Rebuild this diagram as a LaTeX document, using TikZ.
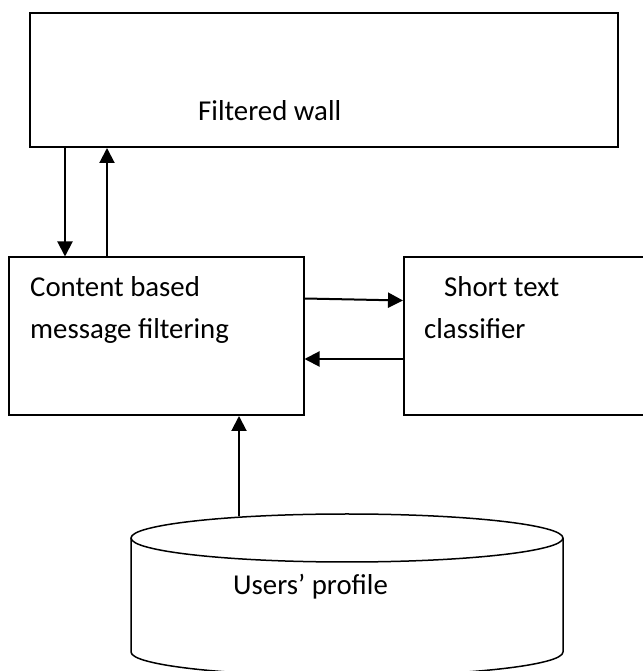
\documentclass[tikz,border=0pt]{standalone}
\usepackage{fontspec}
\setmainfont{Carlito}
\usetikzlibrary{arrows.meta}
\begin{document}
\begin{tikzpicture}[x=1pt,y=1pt,
  boxnode/.style={draw,line width=1.5pt,rectangle,inner sep=0pt,anchor=south west},
  lbl/.style={anchor=base west,inner sep=0pt,font=\fontsize{28.8}{34}\selectfont},
  arr/.style={line width=2pt,-{Triangle[length=15pt,width=15pt]}},
  cyl/.style={line width=1.5pt}]
\useasboundingbox (0,0) rectangle (642,671);
% boxes
\node[boxnode,minimum width=588pt,minimum height=134pt] (fw) at (29,523) {};
\node[boxnode,minimum width=295pt,minimum height=158pt] (cbmf) at (8,255) {};
\node[boxnode,minimum width=240pt,minimum height=158pt] (stc) at (403,255) {};
% labels
\node[lbl] (fwt) at (198,550) {Filtered wall};
\node[lbl] (cb1) at (30,374) {Content based};
\node[lbl] (cb2) at (30,332) {message filtering};
\node[lbl] (st1) at (444,374) {Short text};
\node[lbl] (st2) at (424,332) {classifier};
% cylinder (users' profile)
\draw[cyl] (131,133) -- (131,19) arc[start angle=180,end angle=360,x radius=216,y radius=24] -- (563,133);
\draw[cyl] (347,133) ellipse[x radius=216,y radius=24];
\node[lbl] (upt) at (233,76) {Users’ profile};
\coordinate (up) at (239,155);
% helper coordinates
\coordinate (c65) at (65,0);
\coordinate (c107) at (107,0);
\coordinate (r1) at (0,372.5);
\coordinate (r2) at (0,370.5);
\coordinate (r3) at (0,312);
% connectors
\draw[arr] (fw.south -| c65) -- (cbmf.north -| c65);
\draw[arr] (cbmf.north -| c107) -- (fw.south -| c107);
\draw[arr] (cbmf.east |- r1) -- (stc.west |- r2);
\draw[arr] (stc.west |- r3) -- (cbmf.east |- r3);
\draw[arr] (up) -- (cbmf.south -| up);
\end{tikzpicture}
\end{document}
